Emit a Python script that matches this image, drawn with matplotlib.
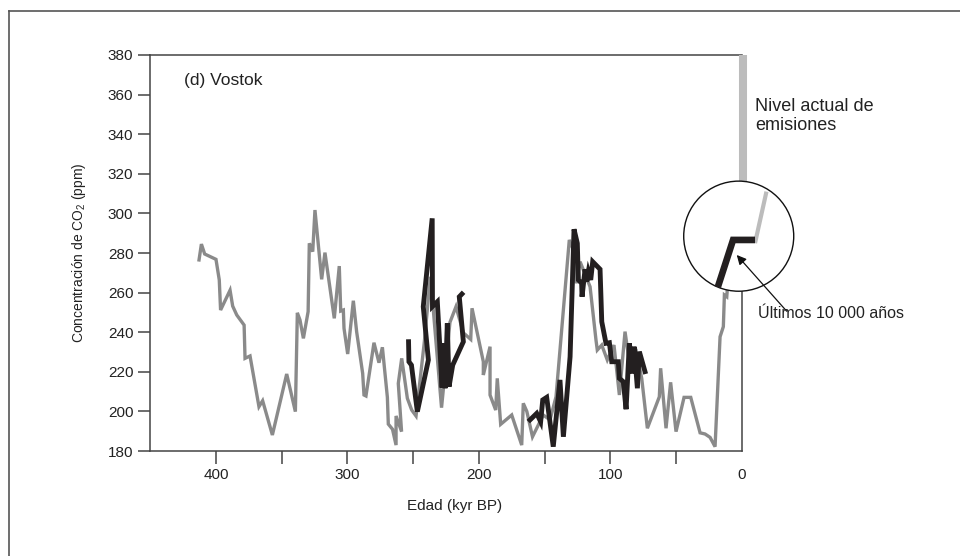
import numpy as np
import matplotlib.pyplot as plt
from matplotlib.patches import Ellipse
from matplotlib.lines import Line2D

plt.rcParams['font.family'] = ['Liberation Sans', 'DejaVu Sans']
plt.rcParams['mathtext.fontset'] = 'custom'
plt.rcParams['mathtext.rm'] = 'Liberation Sans'

# Data (kyr BP, ppm)
grey_age = [412.9, 411.1, 408.6, 400.0, 397.5, 396.5, 389.3, 387.3, 384.2, 378.6,
            377.9, 374.1, 367.3, 364.5, 357.1, 346.2, 339.6, 338.1, 336.1, 333.5,
            329.9, 329.0, 326.4, 324.7, 319.6, 317.1, 310.0, 306.2, 305.1, 303.1,
            302.6, 299.8, 295.5, 293.0, 288.4, 287.4, 285.9, 279.8, 276.0, 273.4,
            269.6, 268.9, 265.7, 263.0, 263.0, 258.8, 261.3, 258.7, 254.4, 251.1,
            247.8, 241.5, 236.9, 234.5, 228.4, 222.0, 217.4, 211.8, 206.2, 205.2,
            196.6, 196.6, 191.5, 191.5, 187.2, 186.0, 183.4, 175.0, 167.4, 166.2,
            163.5, 159.2, 154.8, 151.0, 145.9, 141.3, 131.2, 127.6, 126.1, 123.0,
            115.4, 110.9, 109.9, 106.5, 102.3, 97.2, 93.1, 88.8, 85.0, 79.9,
            76.1, 71.8, 62.7, 61.7, 57.6, 54.1, 50.0, 43.9, 38.8, 31.7,
            27.9, 24.1, 20.3, 16.5, 14.0, 13.2, 11.4, 11.0]
grey_co2 = [276.5, 284.5, 279.5, 276.8, 266.4, 251.2, 261.2, 253.2, 248.7, 243.6,
            226.8, 228.0, 202.4, 205.4, 188.1, 218.9, 199.9, 249.8, 246.2, 236.9,
            250.4, 284.9, 280.7, 301.7, 266.7, 280.2, 247.0, 273.4, 250.7, 251.2,
            242.0, 229.0, 255.9, 240.3, 219.2, 208.3, 207.8, 234.7, 224.6, 232.4,
            207.1, 193.6, 191.0, 183.0, 197.7, 189.8, 214.1, 226.8, 206.6, 200.7,
            197.7, 235.0, 268.0, 250.0, 201.9, 245.0, 252.9, 239.7, 236.4, 252.1,
            225.1, 218.4, 232.7, 208.3, 200.7, 216.7, 193.5, 198.2, 183.0, 204.1,
            200.0, 187.2, 193.1, 198.2, 195.7, 207.4, 286.6, 280.7, 264.7, 275.6,
            263.0, 236.1, 231.0, 233.5, 226.0, 233.5, 208.3, 240.3, 222.6, 229.3,
            216.7, 191.5, 207.4, 221.8, 191.5, 214.7, 189.8, 207.1, 207.1, 189.2,
            188.6, 186.9, 182.2, 237.7, 242.8, 258.8, 257.9, 261.3]

black1_age = [253.5, 253.2, 251.3, 246.8, 238.4, 242.3, 235.5, 235.3, 231.6, 228.0,
              227.0, 225.7, 224.0, 222.7, 219.9, 211.8, 214.9, 212.9]
black1_co2 = [235.2, 225.1, 223.4, 199.9, 226.0, 252.9, 297.5, 253.0, 255.4, 212.0,
              234.4, 211.7, 244.5, 212.5, 223.4, 235.2, 257.9, 259.3]

black2_age = [161.1, 156.0, 153.0, 151.4, 148.4, 143.4, 138.3, 135.7, 130.6, 127.6,
              125.1, 124.3, 121.8, 121.5, 119.2, 118.0, 116.7, 114.9, 113.4, 107.8,
              106.5, 103.3, 100.7, 98.9, 93.9, 93.1, 90.1, 88.0, 85.5, 83.0,
              81.9, 79.4, 77.9, 73.6]
black2_co2 = [195.7, 199.0, 194.8, 205.8, 207.1, 182.2, 215.9, 187.2, 227.6, 292.0,
              284.9, 266.4, 264.7, 257.9, 271.8, 265.5, 270.6, 266.4, 275.6, 271.8,
              245.3, 234.4, 234.7, 225.1, 225.1, 216.7, 215.0, 201.1, 234.4, 219.2,
              232.7, 211.7, 230.2, 220.1]

# magnified last 10 000 years (inside the circle)
zoom_black_age = [18.2, 6.6, -10.1]
zoom_black_co2 = [262.8, 286.6, 286.6]
zoom_grey_age = [-10.1, -18.8]
zoom_grey_co2 = [285.0, 311.0]

# present level bar
now_age = [-1.0, -1.0]
now_co2 = [316.4, 380.0]

y_ticks = list(range(180, 381, 20))
x_ticks = [400, 350, 300, 250, 200, 150, 100, 50, 0]
x_labels = ['400', '', '300', '', '200', '', '100', '', '0']

spine_c = '#444444'
grey_c = '#8a8a8a'
black_c = '#231f20'
text_c = '#222222'

fig = plt.figure(figsize=(9.6, 5.56), dpi=100)
ax = fig.add_axes([0.15625, 0.1888, 0.6164, 0.7123])

ax.plot(grey_age, grey_co2, color=grey_c, lw=2.4, zorder=2, solid_joinstyle='miter')
ax.plot(black1_age, black1_co2, color=black_c, lw=3.5, zorder=3, solid_joinstyle='miter')
ax.plot(black2_age, black2_co2, color=black_c, lw=3.5, zorder=3, solid_joinstyle='miter')

ax.set_xlim(450.2, 0)
ax.set_ylim(180, 380)
ax.set_xticks(x_ticks)
ax.set_xticklabels(x_labels)
ax.xaxis.get_major_ticks()[-1].tick1line.set_visible(False)
ax.set_yticks(y_ticks)
ax.tick_params(direction='out', length=9, width=1.1, color=spine_c,
               labelsize=11, pad=3, labelcolor=text_c)

for s in ['left', 'bottom', 'top']:
    ax.spines[s].set_color(spine_c)
    ax.spines[s].set_linewidth(1.1)
ax.spines['right'].set_visible(False)
# right spine only below the circle
ax.plot([0, 0], [180, 260.8], color=spine_c, lw=1.1, clip_on=False, zorder=4)

ax.set_xlabel('Edad (kyr BP)', fontsize=11, color=text_c)
ax.xaxis.set_label_coords(0.515, -0.12)
ax.set_ylabel(r'Concentración de CO$_\mathrm{2}$ (ppm)', fontsize=10, color=text_c)
ax.yaxis.set_label_coords(-0.105, 0.5)

ax.text(424, 367, '(d) Vostok', fontsize=12.5, va='center', color=text_c)

# present level bar and circle
ax.plot(now_age, now_co2, color='#bcbcbc', lw=5.8, clip_on=False, zorder=4,
        solid_capstyle='butt')
circ = Ellipse((2.3, 288.5), width=83.7, height=55.6, facecolor='white',
               edgecolor='#111111', lw=1.0, clip_on=False, zorder=5)
ax.add_patch(circ)
ax.plot(zoom_grey_age, zoom_grey_co2, color='#bcbcbc', lw=3.0, clip_on=False,
        zorder=6, solid_capstyle='butt')
ax.plot(zoom_black_age, zoom_black_co2, color=black_c, lw=4.8, clip_on=False,
        zorder=7, solid_capstyle='butt', solid_joinstyle='miter')

ax.annotate('', xy=(3.8, 279.0), xytext=(-34.2, 250.6),
            arrowprops=dict(arrowstyle='-|>', color='#111111', lw=0.9,
                            mutation_scale=14, shrinkA=0, shrinkB=0),
            annotation_clip=False, zorder=8)
ax.text(-12.4, 249.7, 'Últimos 10 000 años', fontsize=11.5, va='center',
        ha='left', color=text_c)
ax.text(-10.1, 358.5, 'Nivel actual de\nemisiones', fontsize=13, va='top',
        ha='left', linespacing=1.15, color=text_c)

# outer frame (left and top edges)
fig.add_artist(Line2D([9 / 960, 9 / 960], [0, 1 - 11 / 556], color='#555555', lw=1.2))
fig.add_artist(Line2D([9 / 960, 1], [1 - 11 / 556, 1 - 11 / 556], color='#555555', lw=1.2))

fig.savefig('out.png', dpi=100)
